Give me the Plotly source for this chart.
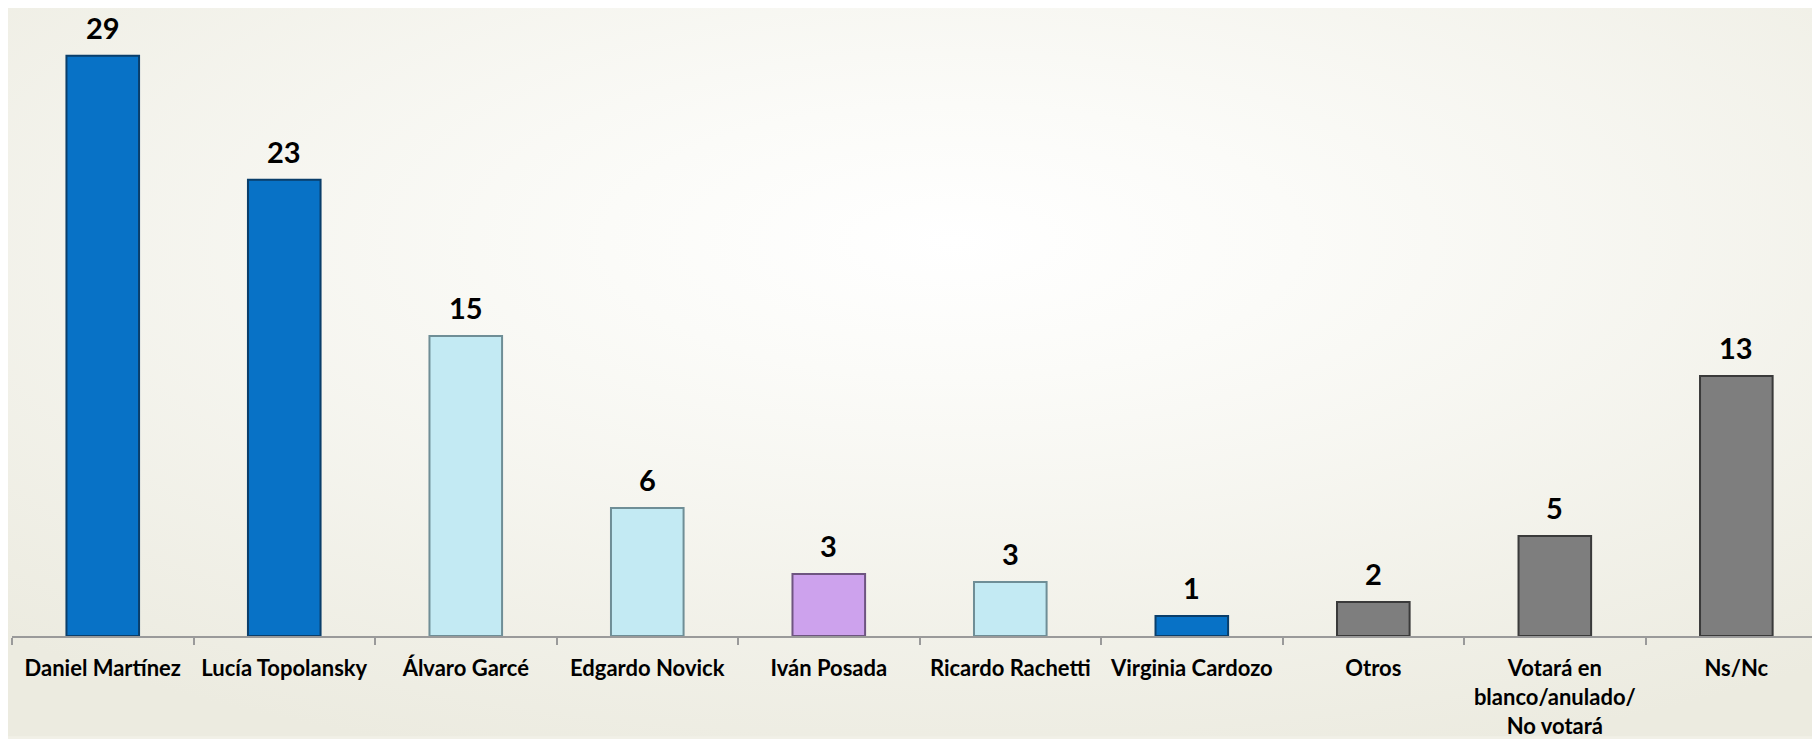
import base64
import plotly.graph_objects as go

categories = ["Daniel Martínez", "Lucía Topolansky", "Álvaro Garcé", "Edgardo Novick",
              "Iván Posada", "Ricardo Rachetti", "Virginia Cardozo", "Otros",
              "Votará en<br>blanco/anulado/<br>No votará", "Ns/Nc"]
values = [29.0, 22.8, 15.0, 6.4, 3.1, 2.7, 1.0, 1.7, 5.0, 13.0]
value_labels = ["29", "23", "15", "6", "3", "3", "1", "2", "5", "13"]
colors = ["#0872C6", "#0872C6", "#C3EAF3", "#C3EAF3", "#CDA2ED", "#C3EAF3",
          "#0872C6", "#7E7E7E", "#7E7E7E", "#7E7E7E"]
edge_colors = ["#0A3E6A", "#0A3E6A", "#6F8E96", "#6F8E96", "#6E5580", "#6F8E96",
               "#0A3E6A", "#3A3A3A", "#3A3A3A", "#3A3A3A"]

svg = """<svg xmlns='http://www.w3.org/2000/svg' width='1820' height='739' preserveAspectRatio='none'>
<defs><radialGradient id='g' cx='0.52' cy='0.32' r='0.75' gradientUnits='objectBoundingBox'>
<stop offset='0' stop-color='#FFFFFF'/><stop offset='0.25' stop-color='#FBFBF8'/>
<stop offset='1' stop-color='#ECEBE0'/></radialGradient></defs>
<rect width='1820' height='739' fill='url(#g)'/></svg>"""
bg_uri = "data:image/svg+xml;base64," + base64.b64encode(svg.encode()).decode()

fig = go.Figure()
fig.add_trace(go.Bar(
    x=categories, y=values, width=0.40,
    marker=dict(color=colors, line=dict(color=edge_colors, width=2)),
    hoverinfo="skip",
))

for c, v, t in zip(categories, values, value_labels):
    fig.add_annotation(x=c, y=v, text=f"<b>{t}</b>", showarrow=False,
                       yanchor="middle", yshift=28,
                       font=dict(family="Lato", size=29, color="#000000"))

fig.update_layout(
    width=1812, height=731,
    margin=dict(l=4, r=0, t=0, b=100),
    paper_bgcolor="#F1F0E7", plot_bgcolor="rgba(0,0,0,0)",
    showlegend=False,
    images=[dict(source=bg_uri, xref="paper", yref="paper", x=-0.01, y=1.0,
                 sizex=1.02, sizey=1.16, xanchor="left", yanchor="top",
                 sizing="stretch", layer="below")],
    xaxis=dict(
        range=[-0.5, 9.461], showline=True, linecolor="#9A9A9A", linewidth=2,
        ticks="outside", tickson="boundaries", ticklen=7, tickcolor="#9A9A9A",
        tickwidth=2, showgrid=False, ticklabelstandoff=12,
        tickfont=dict(family="Lato", size=22, color="#000000"),
    ),
    yaxis=dict(range=[0, 31.39], visible=False, showgrid=False, zeroline=False),
)
fig.update_xaxes(tickvals=categories, ticktext=[f"<b>{c}</b>" for c in categories])

fig.write_html("out.html")
